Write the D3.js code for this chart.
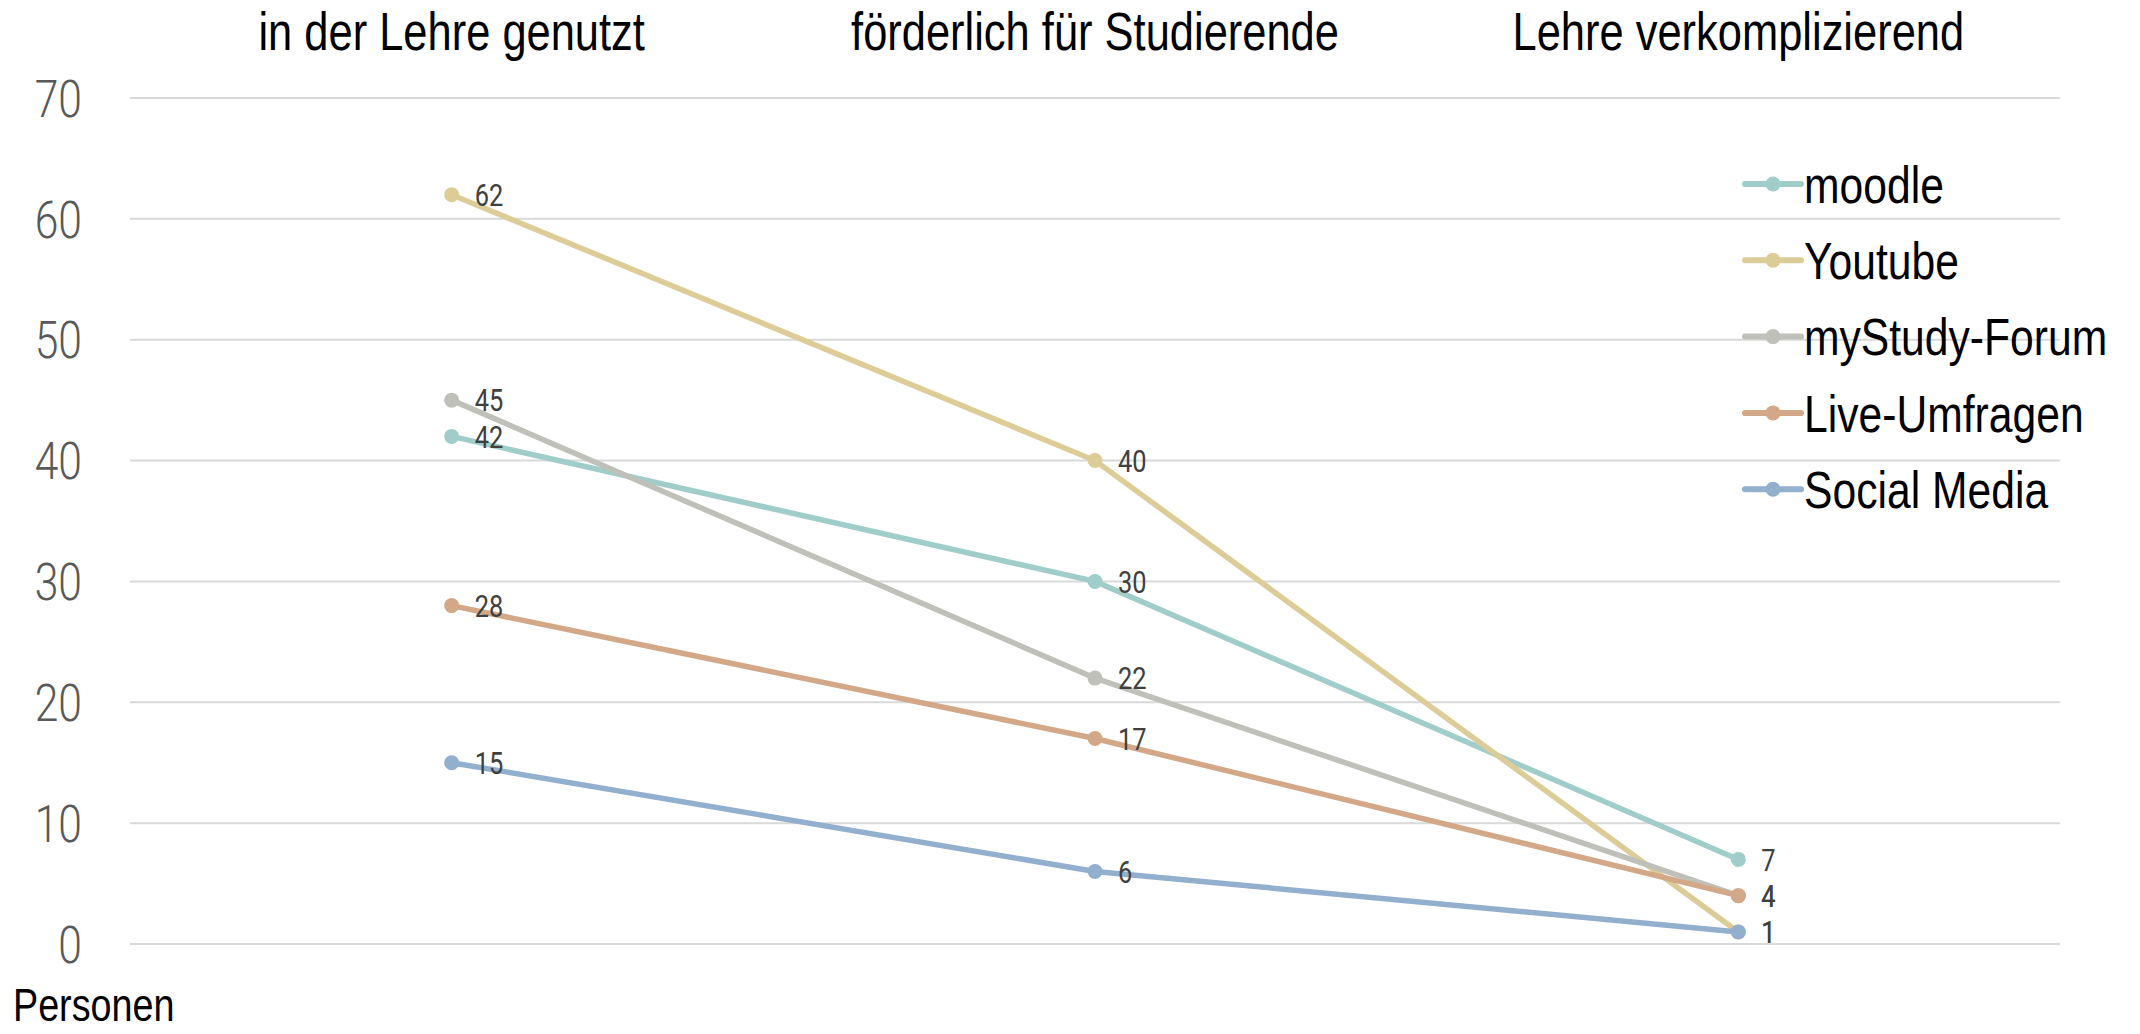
<!DOCTYPE html>
<html>
<head>
<meta charset="utf-8">
<script src="https://cdn.jsdelivr.net/npm/d3@7"></script>
<style>
  body { margin: 0; background: #fff; }
  text { font-family: "Liberation Sans", Arial, sans-serif; }
</style>
</head>
<body>
<div id="chart"></div>
<script>
// Categories (columns) and series values
var categories = ["in der Lehre genutzt", "förderlich für Studierende", "Lehre verkomplizierend"];
var seriesNames = ["moodle", "Youtube", "myStudy-Forum", "Live-Umfragen", "Social Media"];
var moodle = [42, 30, 7];
var youtube = [62, 40, 1];
var myStudyForum = [45, 22, 4];
var liveUmfragen = [28, 17, 4];
var socialMedia = [15, 6, 1];
var yTicks = [0, 10, 20, 30, 40, 50, 60, 70];
var colors = ["#a0cdc9", "#dccc97", "#bfc0ba", "#d2a888", "#92afce"];

var allValues = [moodle, youtube, myStudyForum, liveUmfragen, socialMedia];
var series = seriesNames.map(function(n, i) {
  return {name: n, color: colors[i], values: allValues[i]};
});

// no narrow font installed, so squeeze text horizontally
var NARROW = 0.82;
function place(x, y) {
  return "translate(" + x + "," + y + ") scale(" + NARROW + ",1)";
}

// Dimensions
var W = 2140, H = 1034;
var margin = {top: 98, right: 80, bottom: 90, left: 130},
    width = W - margin.left - margin.right,
    height = H - margin.top - margin.bottom;

var svg = d3.select("#chart")
  .append("svg")
  .attr("width", W)
  .attr("height", H);

var g = svg.append("g")
  .attr("transform", "translate(" + margin.left + "," + margin.top + ")");

// Scales
var x = d3.scalePoint()
  .domain(categories)
  .range([0, width])
  .padding(0.5);

var y = d3.scaleLinear()
  .domain([0, 70])
  .range([height, 0]);

// Gridlines
g.append("g")
  .selectAll("line")
  .data(yTicks)
  .enter()
  .append("line")
    .attr("x1", 0)
    .attr("x2", width)
    .attr("y1", function(d) { return y(d); })
    .attr("y2", function(d) { return y(d); })
    .attr("stroke", "#d9d9d9")
    .attr("stroke-width", 2);

// Y axis labels
g.append("g")
  .selectAll("text")
  .data(yTicks)
  .enter()
  .append("text")
    .attr("transform", function(d) { return place(-48, y(d)); })
    .attr("dy", "0.36em")
    .attr("text-anchor", "end")
    .style("font-family", "Roboto, sans-serif")
    .style("font-weight", 300)
    .style("font-size", "52px")
    .attr("fill", "#595959")
    .text(function(d) { return d; });

// Category titles at top
svg.append("g")
  .selectAll("text")
  .data(categories)
  .enter()
  .append("text")
    .attr("transform", function(d) { return place(margin.left + x(d), 50); })
    .attr("text-anchor", "middle")
    .style("font-size", "53px")
    .attr("fill", "#000")
    .text(function(d) { return d; });

// Lines
var line = d3.line()
  .x(function(d, i) { return x(categories[i]); })
  .y(function(d) { return y(d); });

var sg = g.selectAll(".series")
  .data(series)
  .enter()
  .append("g")
  .attr("class", "series");

sg.append("path")
  .attr("d", function(d) { return line(d.values); })
  .attr("fill", "none")
  .attr("stroke", function(d) { return d.color; })
  .attr("stroke-width", 5.5);

sg.selectAll("circle")
  .data(function(d) { return d.values.map(function(v) { return {v: v, c: d.color}; }); })
  .enter()
  .append("circle")
    .attr("cx", function(d, i) { return x(categories[i]); })
    .attr("cy", function(d) { return y(d.v); })
    .attr("r", 7.5)
    .attr("fill", function(d) { return d.c; });

// Data labels
sg.selectAll(".lbl")
  .data(function(d) { return d.values; })
  .enter()
  .append("text")
    .attr("class", "lbl")
    .attr("transform", function(d, i) { return place(x(categories[i]) + 23, y(d)); })
    .attr("dy", "0.36em")
    .style("font-family", "Roboto, sans-serif")
    .style("font-size", "31px")
    .attr("fill", "#404040")
    .text(function(d) { return d; });

// Legend
var legend = svg.append("g")
  .attr("transform", "translate(1745,184)");

var li = legend.selectAll("g")
  .data(series)
  .enter()
  .append("g")
  .attr("transform", function(d, i) { return "translate(0," + (i * 76.3) + ")"; });

li.append("line")
  .attr("x1", 0).attr("x2", 56)
  .attr("stroke", function(d) { return d.color; })
  .attr("stroke-width", 6)
  .attr("stroke-linecap", "round");

li.append("circle")
  .attr("cx", 28)
  .attr("r", 7.5)
  .attr("fill", function(d) { return d.color; });

li.append("text")
  .attr("transform", place(59, 0))
  .attr("dy", "0.36em")
  .style("font-size", "52px")
  .attr("fill", "#000")
  .text(function(d) { return d.name; });

// Y axis title
svg.append("text")
  .attr("transform", place(13, 1004))
  .attr("dy", "0.36em")
  .style("font-size", "46px")
  .attr("fill", "#000")
  .text("Personen");
</script>
</body>
</html>
